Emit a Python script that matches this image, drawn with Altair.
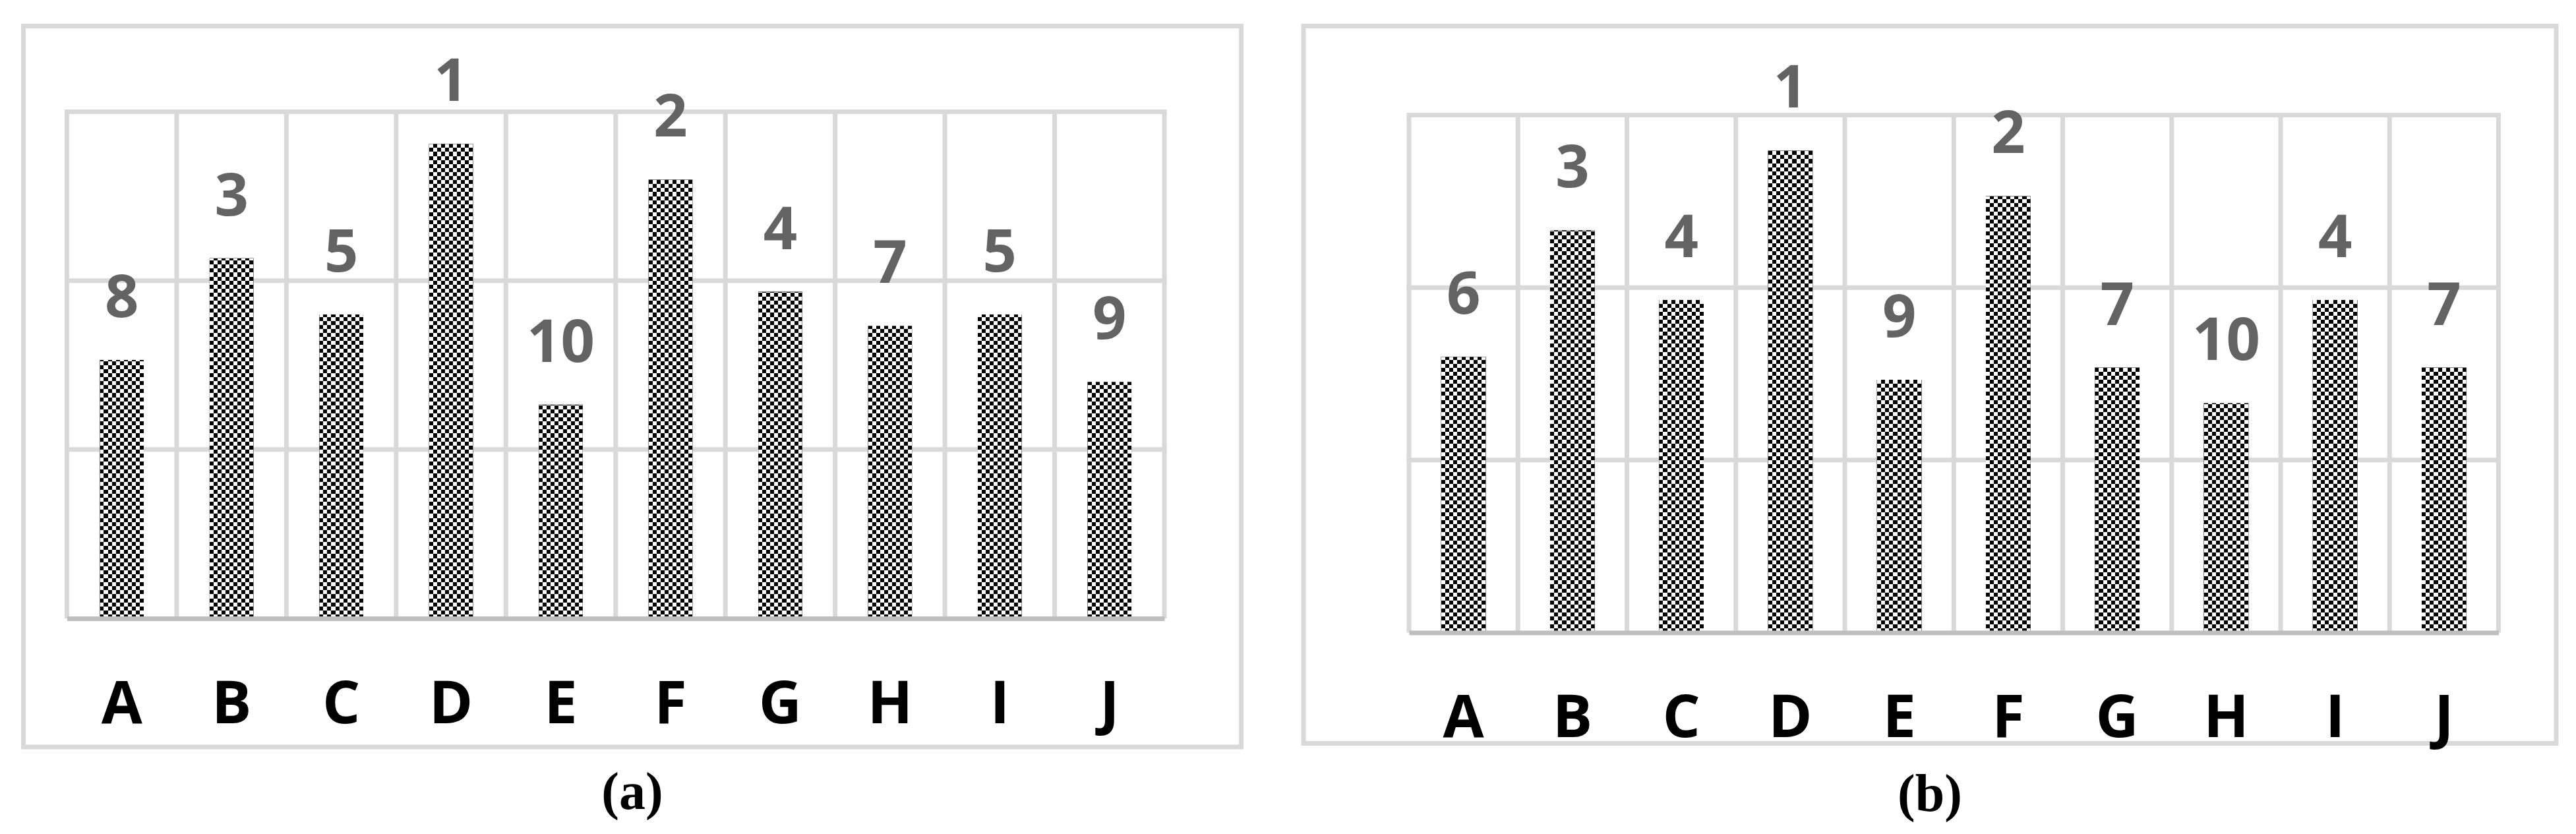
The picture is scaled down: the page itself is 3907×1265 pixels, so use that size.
import altair as alt

# ---------------- data ----------------
categories = ["A", "B", "C", "D", "E", "F", "G", "H", "I", "J"]
values_a = [7.65, 10.66, 9.0, 14.05, 6.33, 12.99, 9.67, 8.66, 9.0, 7.0]
ranks_a = ["8", "3", "5", "1", "10", "2", "4", "7", "5", "9"]
values_b = [7.99, 11.66, 9.64, 13.97, 7.33, 12.65, 7.68, 6.65, 9.64, 7.68]
ranks_b = ["6", "3", "4", "1", "9", "2", "7", "10", "4", "7"]
grid_values = [5, 10, 15]
y_max = 15
captions = ["(a)", "(b)"]

# ---------------- style ----------------
GRID = "#d9d9d9"
BASE = "#bfbfbf"
LABEL_GREY = "#636363"
CELL = 6.1
FONT = "Open Sans"


def stripe_stops(n, first, second):
    stops = []
    for i in range(n):
        c = first if i % 2 == 0 else second
        stops.append({"offset": i / n, "color": c})
        stops.append({"offset": (i + 1) / n, "color": c})
    return stops


def panel(values, ranks, caption, view_w, view_h, x0, x1, y_top, y_base, bar_frac):
    xs = alt.Scale(domain=categories, range=[x0, x1], paddingInner=0, paddingOuter=0)
    ys = alt.Scale(domain=[0, y_max], range=[y_base, y_top], nice=False, zero=True)
    xa = alt.Axis(
        orient="bottom", offset=y_base - view_h, title=None,
        grid=False, ticks=False, tickSize=0,
        domain=True, domainColor=BASE, domainWidth=7,
        labelFont=FONT, labelFontWeight="bold", labelFontSize=90,
        labelColor="black", labelBaseline="alphabetic", labelPadding=158,
        labelAngle=0, labelOverlap=False, labelFlush=False, labelBound=False,
        zindex=1,
    )

    bar_w = (x1 - x0) / len(categories) * bar_frac
    n_cols = max(1, round(bar_w / CELL))
    vfill = {"gradient": "linear", "x1": 0, "y1": 0, "x2": 1, "y2": 0,
             "stops": stripe_stops(n_cols, "#000000", "#ffffff")}
    n_rows = round((y_base - y_top) / CELL)
    hstops = stripe_stops(n_rows, "#ffffff", "#000000")

    rows = []
    for c, v, r in zip(categories, values, ranks):
        rows.append({
            "cat": c, "v": v, "rank": r,
            "hgrad": {"gradient": "linear", "x1": 0, "x2": 0,
                      "y1": 1 - y_max / v, "y2": 1, "stops": hstops},
        })
    data = alt.Data(values=rows)

    hgrid = alt.Chart(alt.Data(values=[{"g": g} for g in grid_values])).mark_rule(
        color=GRID, strokeWidth=7
    ).encode(
        y=alt.Y("g:Q", scale=ys, axis=None),
        x=alt.value(x0 - 3.5),
        x2=alt.value(x1 + 3.5),
    )
    vgrid = alt.Chart(alt.Data(values=[{"cat": c} for c in categories])).mark_rule(
        color=GRID, strokeWidth=7
    ).encode(
        x=alt.X("cat:N", bandPosition=0, scale=xs, axis=xa),
        y=alt.value(y_top),
        y2=alt.value(y_base),
    )
    vgrid_end = alt.Chart(alt.Data(values=[{"cat": categories[-1]}])).mark_rule(
        color=GRID, strokeWidth=7
    ).encode(
        x=alt.X("cat:N", bandPosition=1, scale=xs, axis=xa),
        y=alt.value(y_top),
        y2=alt.value(y_base),
    )
    bars1 = alt.Chart(data).mark_bar(
        width=alt.RelativeBandSize(bar_frac), fill=vfill
    ).encode(
        x=alt.X("cat:N", scale=xs, axis=xa),
        y=alt.Y("v:Q", scale=ys, axis=None),
    )
    bars2 = alt.Chart(data).mark_bar(
        width=alt.RelativeBandSize(bar_frac), blend="difference"
    ).encode(
        x=alt.X("cat:N", scale=xs, axis=xa),
        y=alt.Y("v:Q", scale=ys, axis=None),
        fill=alt.Fill("hgrad:N", scale=None, legend=None),
    )
    labels = alt.Chart(data).mark_text(
        dy=-65, baseline="alphabetic", align="center",
        font=FONT, fontWeight="bold", fontSize=90, color=LABEL_GREY,
    ).encode(
        x=alt.X("cat:N", scale=xs, axis=xa),
        y=alt.Y("v:Q", scale=ys, axis=None),
        text="rank:N",
    )
    return alt.layer(hgrid, vgrid, vgrid_end, bars1, bars2, labels).properties(
        width=view_w, height=view_h,
        title=alt.TitleParams(
            text=caption, orient="bottom", anchor="middle", offset=31,
            font="Liberation Serif", fontSize=80, fontWeight="bold", color="black",
        ),
    )


pa = panel(values_a, ranks_a, captions[0], 1847, 1093.5, 66, 1730.5, 130, 898.5, 0.40)
pb = panel(values_b, ranks_b, captions[1], 1900, 1088, 160, 1812.5, 135, 920, 0.41)

chart = alt.hconcat(pa, pb, spacing=86.5).properties(
    padding={"left": 23.5, "top": 27.5, "right": 0, "bottom": 0},
    background="white",
).configure_view(stroke=GRID, strokeWidth=7)

chart.save("out.html", embed_options={"renderer": "svg", "actions": False})
